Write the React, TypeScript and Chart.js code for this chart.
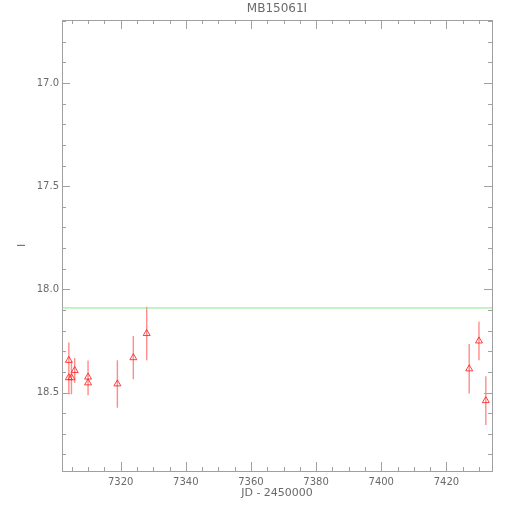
import React, { useEffect, useRef } from "react";
import { Chart, registerables } from "chart.js";

Chart.register(...registerables);

const TITLE = "MB15061I";
const X_TITLE = "JD - 2450000";
const Y_TITLE = "I";

const JD = [7304.1, 7304.1, 7304.9, 7305.9, 7310.0, 7310.0, 7319.0, 7323.9, 7328.0, 7427.0, 7430.0, 7432.1];
const MAG = [18.344, 18.428, 18.428, 18.393, 18.425, 18.453, 18.458, 18.331, 18.214, 18.385, 18.25, 18.539];
const ERR = [0.086, 0.08, 0.08, 0.06, 0.08, 0.06, 0.115, 0.105, 0.13, 0.12, 0.093, 0.118];

const BASELINE = 18.09;

const X_MIN = 7302;
const X_MAX = 7434;
const X_STEP = 20;
const X_MINOR = 5;
const Y_MIN = 16.695;
const Y_MAX = 18.88;
const Y_STEP = 0.5;
const Y_MINOR = 0.1;

const AXIS_COLOR = "#a0a0a0";
const TEXT_COLOR = "#6a6a6a";
const ERR_COLOR = "rgb(255,140,140)";
const FONT = "'DejaVu Sans', sans-serif";

const frame = {
  id: "frame",
  beforeDatasetsDraw(chart: any) {
    const { ctx, chartArea: a, scales } = chart;
    const xs = scales.x;
    const ys = scales.y;
    ctx.save();
    ctx.setLineDash([]);
    ctx.strokeStyle = AXIS_COLOR;
    ctx.lineWidth = 1;
    ctx.strokeRect(Math.round(a.left) + 0.5, Math.round(a.top) + 0.5, Math.round(a.right - a.left), Math.round(a.bottom - a.top));
    ctx.beginPath();
    const xMajor = xs.ticks.map((t: any) => t.value);
    for (let v = Math.ceil(X_MIN / X_MINOR) * X_MINOR; v <= X_MAX; v += X_MINOR) {
      const isMajor = xMajor.some((m: number) => Math.abs(m - v) < 1e-6);
      const len = isMajor ? 9 : 4;
      const px = Math.round(xs.getPixelForValue(v)) + 0.5;
      ctx.moveTo(px, a.bottom);
      ctx.lineTo(px, a.bottom - len);
      ctx.moveTo(px, a.top);
      ctx.lineTo(px, a.top + len);
    }
    const yMajor = ys.ticks.map((t: any) => t.value);
    for (let i = Math.ceil(Y_MIN / Y_MINOR); i * Y_MINOR <= Y_MAX; i++) {
      const v = i * Y_MINOR;
      const isMajor = yMajor.some((m: number) => Math.abs(m - v) < 1e-6);
      const len = isMajor ? 8 : 4;
      const py = Math.round(ys.getPixelForValue(v)) + 0.5;
      ctx.moveTo(a.left, py);
      ctx.lineTo(a.left + len, py);
      ctx.moveTo(a.right, py);
      ctx.lineTo(a.right - len, py);
    }
    ctx.stroke();
    ctx.restore();

    ctx.save();
    ctx.setLineDash([]);
    ctx.lineWidth = 1.4;
    ctx.strokeStyle = ERR_COLOR;
    ctx.beginPath();
    for (let i = 0; i < JD.length; i++) {
      const px = xs.getPixelForValue(JD[i]);
      ctx.moveTo(px, ys.getPixelForValue(MAG[i] - ERR[i]));
      ctx.lineTo(px, ys.getPixelForValue(MAG[i] + ERR[i]));
    }
    ctx.stroke();
    ctx.restore();
  },
};

export default function App() {
  const ref = useRef<HTMLCanvasElement>(null);
  useEffect(() => {
    if (!ref.current) return;
    const chart = new Chart(ref.current, {
      type: "scatter",
      data: {
        datasets: [
          {
            data: [
              { x: X_MIN, y: BASELINE },
              { x: X_MAX, y: BASELINE },
            ],
            showLine: true,
            borderColor: "rgb(130,235,130)",
            borderWidth: 1,
            pointRadius: 0,
          },
          {
            data: JD.map((x, i) => ({ x, y: MAG[i] })),
            pointStyle: "triangle",
            pointRadius: 4,
            pointBackgroundColor: "rgba(0,0,0,0)",
            pointBorderColor: "rgba(255,30,30,0.85)",
            pointBorderWidth: 1,
            showLine: false,
          },
        ],
      },
      plugins: [frame],
      options: {
        responsive: false,
        animation: false,
        devicePixelRatio: 1,
        layout: { padding: { left: 0, right: 18, top: 0, bottom: 0 } },
        plugins: {
          legend: { display: false },
          tooltip: { enabled: false },
          title: {
            display: true,
            text: TITLE,
            fullSize: false,
            color: TEXT_COLOR,
            font: { family: FONT, size: 12, weight: "normal", lineHeight: 1.2 },
            padding: { top: 2, bottom: 3.6 },
          },
        },
        scales: {
          x: {
            type: "linear",
            min: X_MIN,
            max: X_MAX,
            afterFit: (s: any) => {
              s.height = 39;
            },
            border: { display: false },
            grid: { display: false, drawTicks: false },
            ticks: {
              stepSize: X_STEP,
              includeBounds: false,
              padding: 5,
              color: TEXT_COLOR,
              font: { family: FONT, size: 10 },
              maxRotation: 0,
              callback: (v: any) => String(Math.round(Number(v))),
            },
            title: {
              display: true,
              text: X_TITLE,
              color: TEXT_COLOR,
              font: { family: FONT, size: 11, lineHeight: 1.2 },
              padding: { top: 0, bottom: 10 },
            },
          },
          y: {
            type: "linear",
            reverse: true,
            min: Y_MIN,
            max: Y_MAX,
            afterFit: (s: any) => {
              s.width = 62;
            },
            border: { display: false },
            grid: { display: false, drawTicks: false },
            ticks: {
              stepSize: Y_STEP,
              includeBounds: false,
              padding: 3,
              color: TEXT_COLOR,
              font: { family: FONT, size: 10 },
              callback: (v: any) => Number(v).toFixed(1),
            },
            title: {
              display: true,
              text: Y_TITLE,
              color: TEXT_COLOR,
              font: { family: FONT, size: 11, lineHeight: 1.2 },
              padding: { top: 16, bottom: 0 },
            },
          },
        },
      },
    });
    return () => chart.destroy();
  }, []);
  return (
    <div style={{ position: "fixed", left: 0, top: 0, width: 510, height: 510, background: "#fff" }}>
      <canvas ref={ref} width={510} height={510} style={{ width: 510, height: 510 }} />
    </div>
  );
}
